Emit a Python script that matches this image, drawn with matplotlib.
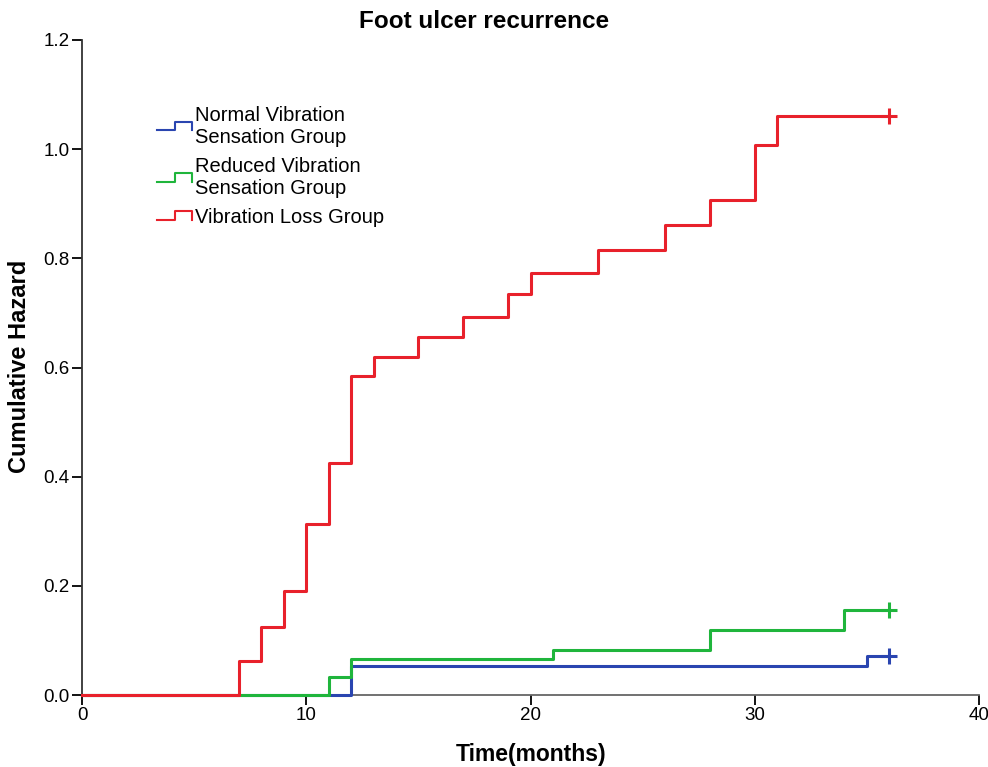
import matplotlib
matplotlib.use("Agg")
import matplotlib.pyplot as plt
from matplotlib.legend_handler import HandlerBase
from matplotlib.lines import Line2D

plt.rcParams['font.family'] = ['Liberation Sans', 'DejaVu Sans']

# step data (time in months, cumulative hazard)
normal_t = [0, 12, 35, 36]
normal_h = [0.0, 0.054, 0.072, 0.072]

reduced_t = [0, 11, 12, 21, 28, 34, 36]
reduced_h = [0.0, 0.033, 0.066, 0.083, 0.119, 0.155, 0.155]

loss_t = [0, 7, 8, 9, 10, 11, 12, 13, 15, 17, 19, 20, 23, 26, 28, 30, 31, 36]
loss_h = [0.0, 0.062, 0.124, 0.190, 0.314, 0.425, 0.584, 0.620, 0.655,
          0.693, 0.734, 0.774, 0.816, 0.861, 0.907, 1.007, 1.060, 1.060]

labels = ['Normal Vibration\nSensation Group',
          'Reduced Vibration\nSensation Group',
          'Vibration Loss Group']
colors = ['#2a45b0', '#1fb53c', '#e8212b']

xticks = [0, 10, 20, 30, 40]
yticks = [0.0, 0.2, 0.4, 0.6, 0.8, 1.0, 1.2]


# legend handle drawn as a little step
class StepHandler(HandlerBase):
    def create_artists(self, legend, orig, xdescent, ydescent, width, height,
                       fontsize, trans):
        x0 = -xdescent
        y0 = -ydescent
        lo = y0 + height * 0.25
        hi = y0 + height * 0.85
        xs = [x0, x0 + width * 0.5, x0 + width * 0.5, x0 + width, x0 + width]
        ys = [lo, lo, hi, hi, lo]
        ln = Line2D(xs, ys, color=orig.get_color(), lw=1.5, transform=trans)
        return [ln]


fig = plt.figure(figsize=(9.88, 7.67), dpi=100)
ax = fig.add_axes([82 / 988, 1 - 695 / 767, 897 / 988, 655 / 767])

series = [(normal_t, normal_h), (reduced_t, reduced_h), (loss_t, loss_h)]
handles = []
for i, ((t, h), c, lab) in enumerate(zip(series, colors, labels)):
    line, = ax.step(t, h, where='post', color=c, lw=2.2, label=lab,
                    clip_on=False, zorder=3 + i)
    ax.plot(t[-1], h[-1], marker='+', color=c, ms=11, mew=2.2,
            clip_on=False, zorder=3 + i)
    handles.append(line)

ax.set_xlim(0, 40)
ax.set_ylim(0, 1.2)
ax.set_xticks(xticks)
ax.set_yticks(yticks)
ax.set_yticklabels(['%.1f' % v for v in yticks])
ax.tick_params(direction='out', length=7, width=1.3, labelsize=13.5,
               pad=2)

for s in ['top', 'right']:
    ax.spines[s].set_visible(False)
ax.spines['left'].set_color('#333333')
ax.spines['bottom'].set_color('#666666')
ax.spines['left'].set_linewidth(1.3)
ax.spines['bottom'].set_linewidth(1.3)

fig.text(484 / 988, 1 - 21 / 767, 'Foot ulcer recurrence', ha='center',
         va='center', fontsize=17.5, fontweight='bold')
fig.text(531 / 988, 1 - 754 / 767, 'Time(months)', ha='center',
         va='center', fontsize=16.5, fontweight='bold')
fig.text(20 / 988, 1 - 366 / 767, 'Cumulative Hazard', ha='center',
         va='center', rotation=90, fontsize=17, fontweight='bold')

ax.legend(handles=handles, labels=labels, loc='upper left',
          bbox_to_anchor=(157 / 988, 1 - 106 / 767),
          bbox_transform=fig.transFigure, frameon=False, fontsize=14.5,
          handlelength=1.75, handletextpad=0.15, labelspacing=0.5,
          borderpad=0, borderaxespad=0,
          handler_map={Line2D: StepHandler()})

fig.savefig('out.png', dpi=100)
